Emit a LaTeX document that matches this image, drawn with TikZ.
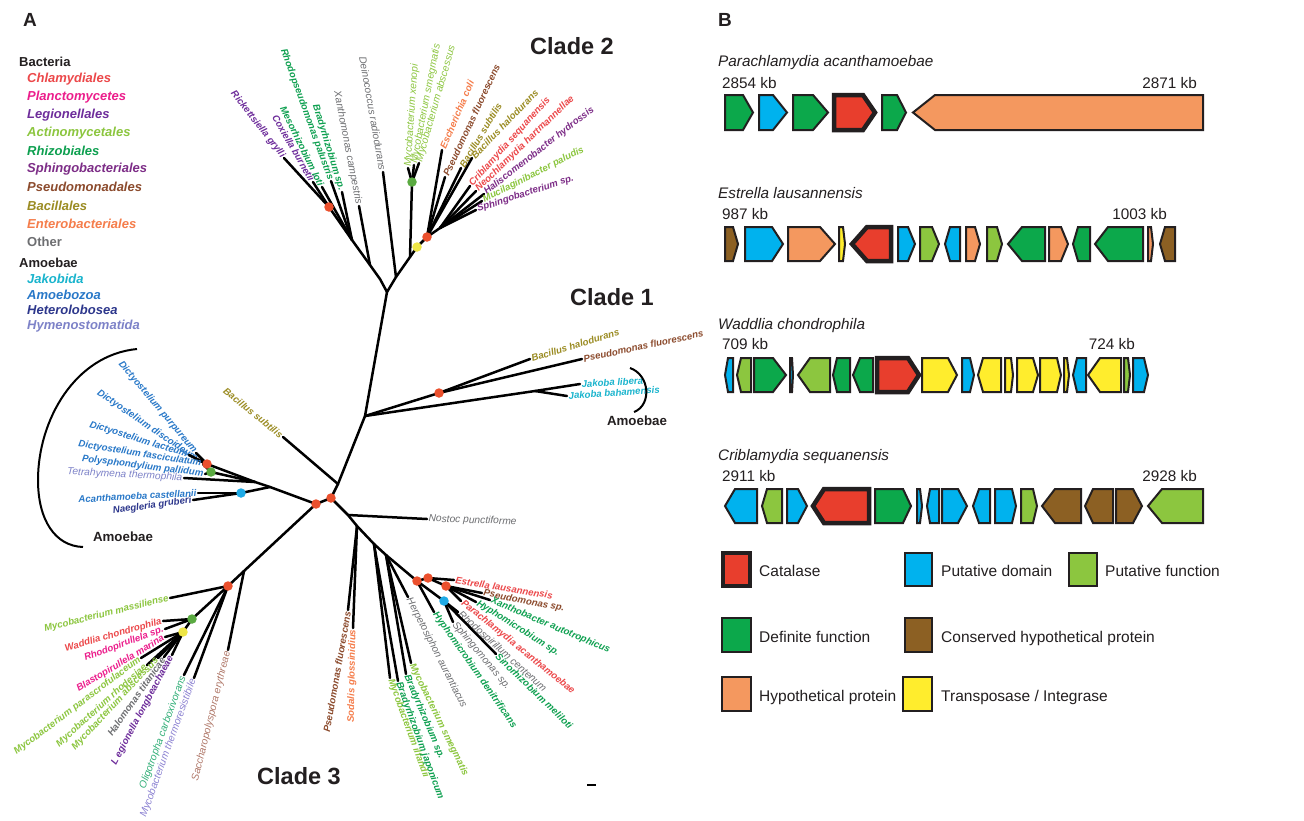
\documentclass[tikz,border=0pt]{standalone}
\usepackage{fontspec}
\setmainfont{Liberation Sans}
\definecolor{chl}{RGB}{236,72,74}
\definecolor{plc}{RGB}{236,30,140}
\definecolor{leg}{RGB}{110,45,155}
\definecolor{act}{RGB}{140,198,63}
\definecolor{rhz}{RGB}{14,160,80}
\definecolor{sph}{RGB}{125,45,135}
\definecolor{psd}{RGB}{140,75,45}
\definecolor{bac}{RGB}{155,140,35}
\definecolor{ent}{RGB}{245,125,75}
\definecolor{oth}{RGB}{109,110,113}
\definecolor{jak}{RGB}{25,180,205}
\definecolor{amz}{RGB}{40,120,200}
\definecolor{het}{RGB}{45,55,140}
\definecolor{hym}{RGB}{125,130,200}
\definecolor{olg}{RGB}{50,175,120}
\definecolor{mth}{RGB}{140,130,210}
\definecolor{sac}{RGB}{176,120,105}
\definecolor{dred}{RGB}{235,80,45}
\definecolor{dyel}{RGB}{238,230,70}
\definecolor{dgrn}{RGB}{90,170,65}
\definecolor{dblu}{RGB}{30,170,230}
\definecolor{gG}{RGB}{12,168,75}
\definecolor{gB}{RGB}{0,178,238}
\definecolor{gRd}{RGB}{232,62,45}
\definecolor{gO}{RGB}{244,152,95}
\definecolor{gL}{RGB}{140,198,63}
\definecolor{gBr}{RGB}{140,96,35}
\definecolor{gY}{RGB}{255,237,45}
\definecolor{gline}{RGB}{35,31,32}
\definecolor{txt}{RGB}{35,31,32}
\tikzset{
  br/.style={line width=2.5pt, line cap=round},
  lb/.style={font={\fontsize{9.6}{11}\selectfont\bfseries\itshape}, inner sep=1.5pt},
  lr/.style={font={\fontsize{10.2}{12}\selectfont\itshape}, inner sep=1.5pt},
  legA/.style={font={\fontsize{13}{15}\selectfont\bfseries\itshape}, inner sep=0pt, anchor=west},
  legH/.style={font={\fontsize{13}{15}\selectfont\bfseries}, inner sep=0pt, anchor=west, text=txt},
  clade/.style={font={\fontsize{23.5}{26}\selectfont\bfseries}, inner sep=0pt, text=txt},
  panel/.style={font={\fontsize{19}{21}\selectfont\bfseries}, inner sep=0pt, text=txt},
  amb/.style={font={\fontsize{13.3}{15}\selectfont\bfseries}, inner sep=0pt, text=txt},
  dot/.style={circle, inner sep=0pt, minimum size=9.5pt},
  gene/.style={draw=gline, line width=2pt, line join=miter},
  cat/.style={line width=4.5pt},
  ttl/.style={font={\fontsize{15.3}{18}\selectfont\itshape}, inner sep=0pt, anchor=base west, text=txt},
  kb/.style={font={\fontsize{15.3}{18}\selectfont}, inner sep=0pt, text=txt},
  lgt/.style={font={\fontsize{15.5}{18}\selectfont}, inner sep=0pt, anchor=base west, text=txt},
  bracket/.style={line width=2pt}
}
\newcommand\leaf[7]{\coordinate (#1) at #3; \draw[br] (#2) -- (#1); \node[#6, rotate=#4, anchor=#5] (#1-l) at (#1) {#7};}
\newcommand\geneR[5][]{\draw[gene,fill=#5,#1] (#2,\yt) -- (#3,\yt) -- (#4,\yc) -- (#3,\yb) -- (#2,\yb) -- cycle;}
\newcommand\geneL[5][]{\draw[gene,fill=#5,#1] (#2,\yc) -- (#3,\yt) -- (#4,\yt) -- (#4,\yb) -- (#3,\yb) -- cycle;}
\begin{document}
\begin{tikzpicture}[x=1pt,y=-1pt]
\useasboundingbox (0,0) rectangle (1304,820);
\fill[white] (0,0) rectangle (1304,820);
% ---------- panel letters & clade labels
\node[panel] (pA) at (30,20) {A};
\node[panel] (pB) at (725,20) {B};
\node[clade] (cl2) at (572,46) {Clade 2};
\node[clade] (cl1) at (612,297) {Clade 1};
\node[clade] (cl3) at (299,776) {Clade 3};
% ---------- legend A
\node[legH] (hB) at (19,62) {Bacteria};
\node[legA,text=chl] (k1) at (27,79) {Chlamydiales};
\node[legA,text=plc] (k2) at (27,97) {Planctomycetes};
\node[legA,text=leg] (k3) at (27,115) {Legionellales};
\node[legA,text=act] (k4) at (27,133) {Actinomycetales};
\node[legA,text=rhz] (k5) at (27,151) {Rhizobiales};
\node[legA,text=sph] (k6) at (27,169) {Sphingobacteriales};
\node[legA,text=psd] (k7) at (27,187) {Pseudomonadales};
\node[legA,text=bac] (k8) at (27,206) {Bacillales};
\node[legA,text=ent] (k9) at (27,224) {Enterobacteriales};
\node[legH,text=oth] (k10) at (27,242) {Other};
\node[legH] (hA) at (19,263) {Amoebae};
\node[legA,text=jak] (k11) at (27,279) {Jakobida};
\node[legA,text=amz] (k12) at (27,295) {Amoebozoa};
\node[legA,text=het] (k13) at (27,310) {Heterolobosea};
\node[legA,text=hym] (k14) at (27,326) {Hymenostomatida};
% ---------- internal nodes
\coordinate (R1) at (316,504);
\coordinate (R2) at (331,498);
\coordinate (T1) at (338,484);
\coordinate (C1) at (365,416);
\coordinate (C2) at (387,292);
\coordinate (LA) at (380,279);
\coordinate (RA) at (396,277);
\coordinate (X) at (370,265);
\coordinate (J1) at (352,240);
\coordinate (Lg) at (329,207);
\coordinate (M0) at (410,257);
\coordinate (Yc) at (417,247);
\coordinate (Mg) at (412,182);
\coordinate (Rr) at (427,237);
\coordinate (S) at (440,228);
\coordinate (RD1) at (439,393);
\coordinate (Jk) at (535,391);
\coordinate (A1) at (270,487);
\coordinate (A2) at (255,482);
\coordinate (D) at (207,464);
\coordinate (G) at (211,472);
\coordinate (Bl1) at (241,493);
\coordinate (K) at (244,571);
\coordinate (Q) at (228,586);
\coordinate (Gg) at (192,619);
\coordinate (Yy) at (183,632);
\coordinate (N1) at (348,515);
\coordinate (N2) at (357,526);
\coordinate (N3) at (374,544);
\coordinate (N4) at (386,555);
\coordinate (RdA) at (417,581);
\coordinate (Bl2) at (444,601);
\coordinate (RdB) at (428,578);
\coordinate (RdC) at (446,586);
% ---------- internal edges
\draw[br] (R1) -- (R2); \draw[br] (R2) -- (T1); \draw[br] (T1) -- (C1); \draw[br] (C1) -- (C2);
\draw[br] (C2) -- (LA); \draw[br] (C2) -- (RA); \draw[br] (LA) -- (X); \draw[br] (X) -- (J1); \draw[br] (J1) -- (Lg);
\draw[br] (RA) -- (M0); \draw[br] (M0) -- (Yc); \draw[br] (M0) -- (Mg); \draw[br] (Yc) -- (Rr); \draw[br] (Rr) -- (S);
\draw[br] (C1) -- (RD1); \draw[br] (C1) -- (Jk);
\draw[br] (R1) -- (A1); \draw[br] (A1) -- (A2); \draw[br] (A2) -- (D); \draw[br] (A2) -- (G); \draw[br] (A1) -- (Bl1);
\draw[br] (R1) -- (K); \draw[br] (K) -- (Q); \draw[br] (Q) -- (Gg); \draw[br] (Gg) -- (Yy);
\draw[br] (R2) -- (N1); \draw[br] (N1) -- (N2); \draw[br] (N2) -- (N3); \draw[br] (N3) -- (N4); \draw[br] (N4) -- (RdA);
\draw[br] (RdA) -- (Bl2); \draw[br] (RdA) -- (RdB); \draw[br] (RdB) -- (RdC);
% ---------- clade 2 leaves
\leaf{rick}{Lg}{(284,158)}{-52}{east}{lb,text=leg}{Rickettsiella grylli}
\leaf{coxi}{Lg}{(313,182)}{-60}{east}{lb,text=leg}{Coxiella burnetii}
\leaf{meso}{J1}{(322,187)}{-64}{east}{lb,text=rhz}{Mesorhizobium loti}
\leaf{rpal}{J1}{(331,181)}{-70}{east}{lb,text=rhz}{Rhodopseudomonas palustris}
\leaf{brsp}{J1}{(342,192)}{-73}{east}{lb,text=rhz}{Bradyrhizobium sp.}
\leaf{xcam}{X}{(359,206)}{-79}{east}{lr,text=oth}{Xanthomonas campestris}
\leaf{drad}{RA}{(383,172)}{-80}{east}{lr,text=oth}{Deinococcus radiodurans}
\leaf{mxen}{Mg}{(408,168)}{86}{west}{lr,text=act}{Mycobacterium xenopi}
\leaf{msm2}{Mg}{(414,165)}{79}{west}{lr,text=act}{Mycobacterium smegmatis}
\leaf{mab2}{Mg}{(419,163)}{74}{west}{lr,text=act}{Mycobacterium abscessus}
\leaf{ecol}{Rr}{(442,150)}{67}{west}{lb,text=ent}{Escherichia coli}
\leaf{pfl2}{Rr}{(445,177)}{65}{west}{lb,text=psd}{Pseudomonas fluorescens}
\leaf{bsu2}{Rr}{(461,168)}{59}{west}{lb,text=bac}{Bacillus subtilis}
\leaf{bha2}{Rr}{(472,158)}{46}{west}{lb,text=bac}{Bacillus halodurans}
\leaf{crib}{S}{(470,186)}{48}{west}{lb,text=chl}{Criblamydia sequanensis}
\leaf{neoc}{S}{(476,191)}{44}{west}{lb,text=chl}{Neochlamydia hartmannellae}
\leaf{hali}{S}{(484,194)}{38}{west}{lb,text=sph}{Haliscomenobacter hydrossis}
\leaf{muci}{S}{(482,201)}{27}{west}{lb,text=act}{Mucilaginibacter paludis}
\leaf{sphi}{S}{(476,210)}{18}{west}{lb,text=sph}{Sphingobacterium sp.}
% ---------- clade 1 leaves
\leaf{bha1}{RD1}{(530,359)}{17}{west}{lb,text=bac}{Bacillus halodurans}
\leaf{pfl1}{RD1}{(582,359)}{12}{west}{lb,text=psd}{Pseudomonas fluorescens}
\leaf{jlib}{Jk}{(580,384)}{3}{west}{lb,text=jak}{Jakoba libera}
\leaf{jbah}{Jk}{(567,396)}{4}{west}{lb,text=jak}{Jakoba bahamensis}
\leaf{bsu1}{T1}{(283,437)}{-39}{east}{lb,text=bac}{Bacillus subtilis}
% ---------- amoebae leaves
\leaf{dpur}{D}{(196,453)}{-50}{east}{lb,text=amz}{Dictyostelium purpureum}
\leaf{ddis}{D}{(198,460)}{-34}{east}{lb,text=amz}{Dictyostelium discoideum}
\leaf{dlac}{D}{(189,455)}{-17}{east}{lb,text=amz}{Dictyostelium lacteum}
\leaf{dfas}{G}{(203,464)}{-9}{east}{lb,text=amz}{Dictyostelium fasciculatum}
\leaf{ppal}{G}{(205,474)}{-7}{east}{lb,text=amz}{Polysphondylium pallidum}
\leaf{tthe}{A2}{(184,478)}{-3}{east}{lr,text=hym}{Tetrahymena thermophila}
\leaf{acas}{Bl1}{(198,493)}{3}{east}{lb,text=amz}{Acanthamoeba castellanii}
\leaf{ngru}{Bl1}{(193,500)}{8}{east}{lb,text=het}{Naegleria gruberi}
% ---------- clade 3 lower left
\leaf{sacc}{K}{(228,650)}{76}{east}{lr,text=sac}{Saccharopolyspora erythreae}
\leaf{mmas}{Q}{(170,598)}{14}{east}{lb,text=act}{Mycobacterium massiliense}
\leaf{olig}{Q}{(184,675)}{70}{east}{lr,text=olg}{Oligotropha carboxivorans}
\leaf{mthe}{Q}{(194,678)}{70}{east}{lr,text=mth}{Mycobacterium thermoresistibile}
\leaf{wadd}{Gg}{(163,621)}{16}{east}{lb,text=chl}{Waddlia chondrophila}
\leaf{rhop}{Gg}{(165,629)}{20}{east}{lb,text=plc}{Rhodopirullela sp.}
\leaf{blas}{Yy}{(165,637)}{31}{east}{lb,text=plc}{Blastopirullela marina}
\leaf{mpar}{Yy}{(141,658)}{37}{east}{lb,text=act}{Mycobacterium parascrofulaceum}
\leaf{mrho}{Yy}{(147,665)}{42}{east}{lb,text=act}{Mycobacterium rhodesiae}
\leaf{mab3}{Yy}{(158,658)}{47}{east}{lb,text=act}{Mycobacterium abscessus}
\leaf{halo}{Yy}{(164,657)}{55}{east}{lb,text=oth}{Halomonas titanicae}
\leaf{legi}{Yy}{(172,655)}{62}{east}{lb,text=leg}{L egionella longbeachaeae}
% ---------- clade 3 right
\leaf{nost}{N1}{(427,519)}{-2}{west}{lr,text=oth}{Nostoc punctiforme}
\leaf{pfl3}{N2}{(348,610)}{80}{east}{lb,text=psd}{Pseudomonas fluorescens}
\leaf{soda}{N2}{(353,628)}{89}{east}{lb,text=ent}{Sodalis glossinidius}
\leaf{milf}{N3}{(390,678)}{-70}{west}{lb,text=act}{Mycobacterium ilfandii}
\leaf{bjap}{N3}{(398,681)}{-70}{west}{lb,text=rhz}{Bradyrhizobium japonicum}
\leaf{bsp3}{N4}{(406,674)}{-67}{west}{lb,text=rhz}{Bradyrhizobium sp.}
\leaf{msm3}{N4}{(411,663)}{-64}{west}{lb,text=act}{Mycobacterium smegmatis}
\leaf{herp}{N4}{(408,597)}{-63}{west}{lr,text=oth}{Herpetosiphon aurantiacus}
\leaf{hden}{RdA}{(434,612)}{-55}{west}{lb,text=rhz}{Hyphomicrobium denitrificans}
\leaf{sphm}{Bl2}{(453,622)}{-50}{west}{lr,text=oth}{Sphingomonas sp.}
\leaf{rcen}{Bl2}{(458,612)}{-42}{west}{lr,text=oth}{Rhodospirillum centenum}
\leaf{smel}{Bl2}{(496,654)}{-44}{west}{lb,text=rhz}{Sinorhizobium meliloti}
\leaf{estr}{RdB}{(454,580)}{-9}{west}{lb,text=chl}{Estrella lausannensis}
\leaf{psp}{RdC}{(482,593)}{-11}{west}{lb,text=psd}{Pseudomonas sp.}
\leaf{xaut}{RdC}{(490,600)}{-23}{west}{lb,text=rhz}{Xanthobacter autotrophicus}
\leaf{hsp}{RdC}{(476,602)}{-32}{west}{lb,text=rhz}{Hyphomicrobium sp.}
\leaf{pach}{RdC}{(461,601)}{-39}{west}{lb,text=chl}{Parachlamydia acanthamoebae}
% ---------- dots
\foreach \n in {R1,R2,Lg,Rr,RD1,D,Q,RdA,RdB,RdC} {\node[dot,fill=dred] (dot\n) at (\n) {};}
\foreach \n in {Yc,Yy} {\node[dot,fill=dyel] (dot\n) at (\n) {};}
\foreach \n in {Mg,G,Gg} {\node[dot,fill=dgrn] (dot\n) at (\n) {};}
\foreach \n in {Bl1,Bl2} {\node[dot,fill=dblu] (dot\n) at (\n) {};}
% ---------- brackets
\draw[bracket] (137,349) .. controls (75,355) and (38,420) .. (38,480) .. controls (38,520) and (55,546) .. (83,547);
\node[amb] (amL) at (123,537) {Amoebae};
\draw[bracket] (630,368) .. controls (650,375) and (652,405) .. (634,412);
\node[amb] (amR) at (637,421) {Amoebae};
% scale bar
\draw[line width=2pt] (587,785) -- (596,785);
% ---------- panel B
\node[ttl] (t1) at (718,66) {Parachlamydia acanthamoebae};
\node[kb,anchor=base west] (k1a) at (722,88) {2854 kb};
\node[kb,anchor=base east] (k1b) at (1197,88) {2871 kb};
\def\yt{95}\def\yb{130}\def\yc{112.5}
\geneR{725}{743}{753}{gG}
\geneR{759}{773}{787}{gB}
\geneR{793}{813}{828}{gG}
\geneR[cat]{834}{863}{875}{gRd}
\geneR{882}{897}{906}{gG}
\geneL{913}{935}{1203}{gO}
\node[ttl] (t2) at (718,198) {Estrella lausannensis};
\node[kb,anchor=base west] (k2a) at (722,219) {987 kb};
\node[kb,anchor=base east] (k2b) at (1167,219) {1003 kb};
\def\yt{227}\def\yb{261}\def\yc{244}
\geneR{725}{733}{738}{gBr}
\geneR{745}{772}{783}{gB}
\geneR{788}{820}{835}{gO}
\geneR{839}{843}{845}{gY}
\geneL[cat]{852}{867}{891}{gRd}
\geneR{898}{908}{915}{gB}
\geneR{920}{932}{939}{gL}
\geneL{945}{950}{960}{gB}
\geneR{966}{975}{980}{gO}
\geneR{987}{997}{1002}{gL}
\geneL{1008}{1022}{1045}{gG}
\geneR{1049}{1061}{1068}{gO}
\geneL{1073}{1078}{1090}{gG}
\geneL{1095}{1108}{1143}{gG}
\geneR{1148}{1151}{1153}{gO}
\geneL{1160}{1165}{1175}{gBr}
\node[ttl] (t3) at (718,329) {Waddlia chondrophila};
\node[kb,anchor=base west] (k3a) at (722,349) {709 kb};
\node[kb,anchor=base east] (k3b) at (1135,349) {724 kb};
\def\yt{358}\def\yb{392}\def\yc{375}
\geneL{725}{728}{733}{gB}
\geneL{737}{741}{751}{gL}
\geneR{754}{773}{786}{gG}
\geneR{790}{792}{793}{gB}
\geneL{798}{810}{830}{gL}
\geneL{833}{837}{850}{gG}
\geneL{853}{860}{873}{gG}
\geneR[cat]{877}{908}{919}{gRd}
\geneR{922}{948}{957}{gY}
\geneR{962}{970}{974}{gB}
\geneL{978}{983}{1001}{gY}
\geneR{1005}{1011}{1013}{gY}
\geneR{1017}{1033}{1038}{gY}
\geneR{1040}{1057}{1061}{gY}
\geneR{1064}{1067}{1069}{gY}
\geneL{1073}{1077}{1086}{gB}
\geneL{1088}{1100}{1121}{gY}
\geneR{1124}{1128}{1130}{gL}
\geneR{1133}{1144}{1148}{gB}
\node[ttl] (t4) at (718,460) {Criblamydia sequanensis};
\node[kb,anchor=base west] (k4a) at (722,481) {2911 kb};
\node[kb,anchor=base east] (k4b) at (1197,481) {2928 kb};
\def\yt{489}\def\yb{523}\def\yc{506}
\geneL{725}{735}{757}{gB}
\geneL{762}{767}{782}{gL}
\geneR{787}{798}{807}{gB}
\geneL[cat]{813}{824}{869}{gRd}
\geneR{875}{903}{911}{gG}
\geneR{917}{920}{922}{gB}
\geneL{927}{930}{939}{gB}
\geneR{942}{958}{967}{gB}
\geneL{973}{979}{990}{gB}
\geneR{995}{1012}{1016}{gB}
\geneR{1021}{1033}{1037}{gL}
\geneL{1042}{1055}{1081}{gBr}
\geneL{1085}{1093}{1113}{gBr}
\geneR{1116}{1133}{1142}{gBr}
\geneL{1148}{1162}{1203}{gL}
% legend B
\draw[gene,cat,fill=gRd] (723,553) rectangle (750,586);
\node[lgt] (lg1) at (759,576) {Catalase};
\draw[gene,fill=gB] (905,553) rectangle (932,586);
\node[lgt] (lg2) at (941,576) {Putative domain};
\draw[gene,fill=gL] (1069,553) rectangle (1097,586);
\node[lgt] (lg3) at (1105,576) {Putative function};
\draw[gene,fill=gG] (722,618) rectangle (751,652);
\node[lgt] (lg4) at (759,642) {Definite function};
\draw[gene,fill=gBr] (905,618) rectangle (932,652);
\node[lgt] (lg5) at (941,642) {Conserved hypothetical protein};
\draw[gene,fill=gO] (722,677) rectangle (751,711);
\node[lgt] (lg6) at (759,701) {Hypothetical protein};
\draw[gene,fill=gY] (903,677) rectangle (932,711);
\node[lgt] (lg7) at (941,701) {Transposase / Integrase};
\end{tikzpicture}
\end{document}
